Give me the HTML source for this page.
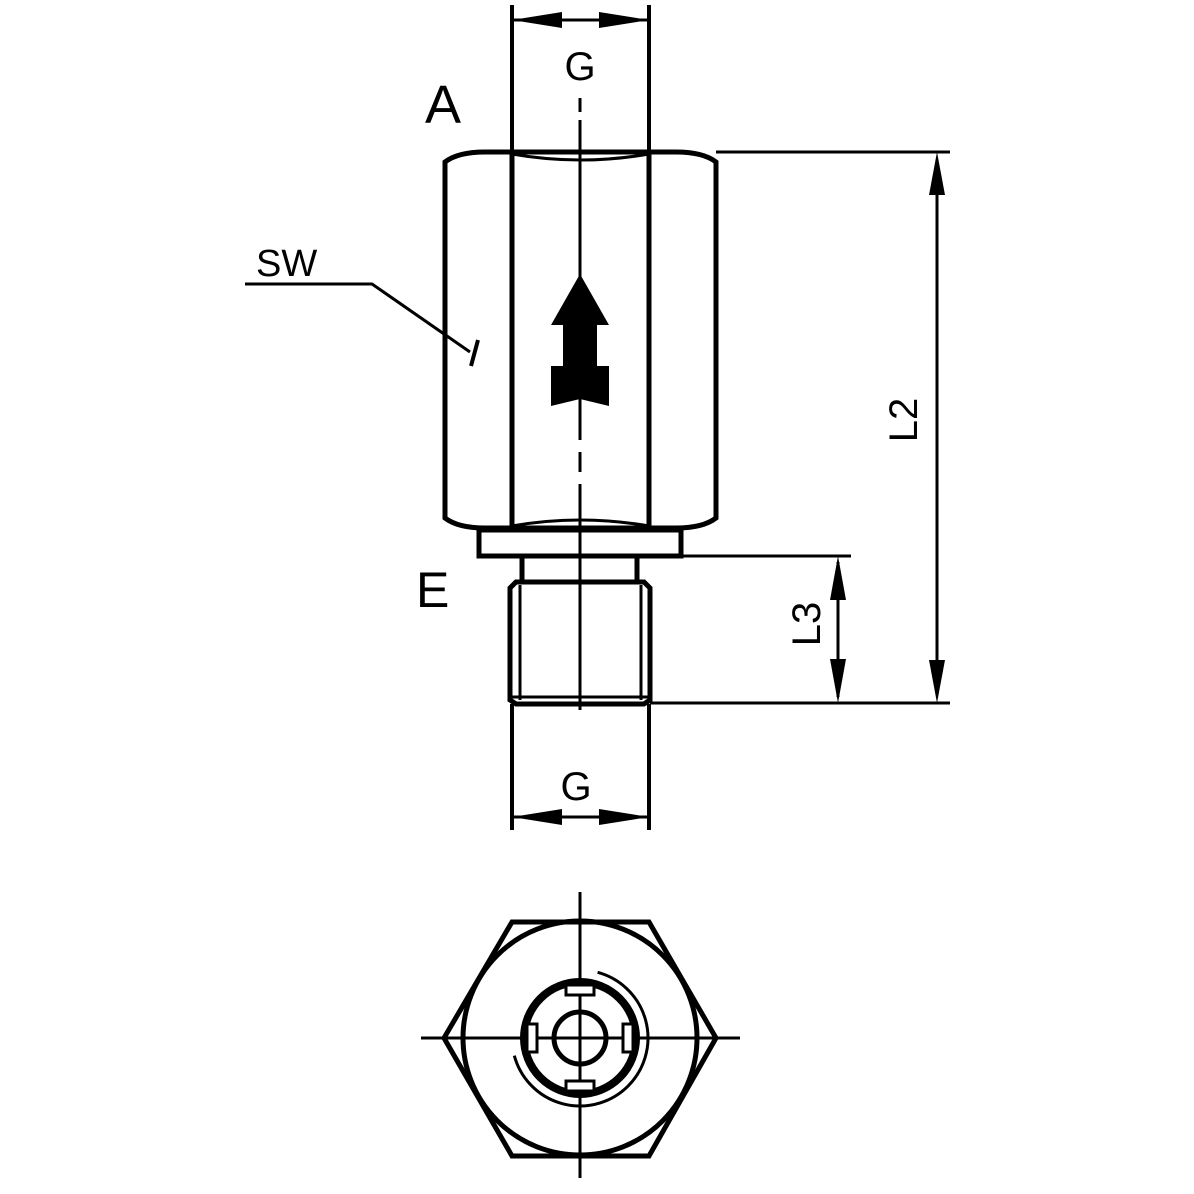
<!DOCTYPE html>
<html><head><meta charset="utf-8"><style>html,body{margin:0;padding:0;background:#fff}svg{display:block}</style></head>
<body>
<svg width="1194" height="1194" viewBox="0 0 1194 1194" xmlns="http://www.w3.org/2000/svg" font-family="Liberation Sans, sans-serif">
<rect width="1194" height="1194" fill="#fff"/>
<g stroke="#000" fill="none" stroke-linecap="butt">
<!-- top G dimension -->
<line x1="512" y1="5" x2="512" y2="152" stroke-width="4"/>
<line x1="649" y1="5" x2="649" y2="152" stroke-width="4"/>
<line x1="512" y1="20" x2="649" y2="20" stroke-width="3"/>
<!-- body -->
<path d="M445,162 Q458,152 485,152 L676,152 Q703,152 716,162 L716,518 Q703,528 676,528 L485,528 Q458,528 445,518 Z" stroke-width="5"/>
<path d="M512,154 Q580,166 649,154 M512,526 Q580,514 649,526" stroke-width="3"/>
<line x1="512" y1="152" x2="512" y2="528" stroke-width="5"/>
<line x1="649" y1="152" x2="649" y2="528" stroke-width="5"/>
<!-- collar -->
<rect x="479" y="530" width="202" height="26" stroke-width="5"/>
<!-- neck -->
<line x1="522" y1="557" x2="522" y2="580" stroke-width="5"/>
<line x1="637" y1="557" x2="637" y2="580" stroke-width="5"/>
<!-- thread -->
<path d="M510,588 L516,582 L644,582 L650,588 L650,700 L644,704 L516,704 L510,700 Z" stroke-width="5"/>
<line x1="520" y1="585" x2="520" y2="700" stroke-width="3"/>
<line x1="641" y1="585" x2="641" y2="700" stroke-width="3"/>
<line x1="512" y1="697" x2="649" y2="697" stroke-width="3"/>
<!-- center line -->
<line x1="580" y1="98" x2="580" y2="112" stroke-width="3"/>
<line x1="580" y1="120" x2="580" y2="440" stroke-width="3"/>
<line x1="580" y1="452" x2="580" y2="472" stroke-width="3"/>
<line x1="580" y1="484" x2="580" y2="710" stroke-width="3"/>
<!-- SW leader -->
<polyline points="245,284 372,284 470,352" stroke-width="3"/>
<line x1="478" y1="340" x2="471" y2="366" stroke-width="4"/>
<!-- right dims -->
<line x1="716" y1="152" x2="950" y2="152" stroke-width="3"/>
<line x1="681" y1="556" x2="851" y2="556" stroke-width="3"/>
<line x1="650" y1="703" x2="950" y2="703" stroke-width="3"/>
<line x1="937" y1="160" x2="937" y2="695" stroke-width="3"/>
<line x1="838" y1="562" x2="838" y2="697" stroke-width="3"/>
<!-- bottom G dim -->
<line x1="512" y1="704" x2="512" y2="830" stroke-width="4"/>
<line x1="649" y1="704" x2="649" y2="830" stroke-width="4"/>
<line x1="512" y1="817" x2="649" y2="817" stroke-width="3"/>
<!-- end view -->
<polygon points="444,1038 512,922 649,922 716,1038 649,1156 512,1156" stroke-width="5"/>
<circle cx="580" cy="1038" r="117" stroke-width="5"/>
<circle cx="580" cy="1038" r="56" stroke-width="8"/>
<circle cx="580" cy="1038" r="26" stroke-width="5"/>
<path d="M597.6,972.3 A68,68 0 1 1 514.3,1055.6" stroke-width="3"/>
<line x1="580" y1="892" x2="580" y2="1178" stroke-width="3"/>
<line x1="421" y1="1038" x2="740" y2="1038" stroke-width="3"/>
<g stroke-width="3" fill="#fff">
<rect x="566" y="985" width="28" height="10"/>
<rect x="566" y="1081" width="28" height="10"/>
<rect x="527" y="1024" width="10" height="28"/>
<rect x="623" y="1024" width="10" height="28"/>
</g>
</g>
<!-- arrowheads -->
<g fill="#000">
<polygon points="512,20 562,12 562,28"/>
<polygon points="649,20 599,12 599,28"/>
<polygon points="512,817 562,809 562,825"/>
<polygon points="649,817 599,809 599,825"/>
<polygon points="937,152 929,195 945,195"/>
<polygon points="937,703 929,660 945,660"/>
<polygon points="838,556 830,600 846,600"/>
<polygon points="838,703 830,659 846,659"/>
<!-- flow arrow -->
<polygon points="580,274 609,325 597,325 597,366 609,366 609,406 580,399 551,406 551,366 563,366 563,325 551,325"/>
</g>
<g fill="#000">
<text x="580" y="80" font-size="40" text-anchor="middle">G</text>
<text x="576" y="800" font-size="40" text-anchor="middle">G</text>
<text x="425" y="123" font-size="54">A</text>
<text x="416" y="607" font-size="50">E</text>
<text x="256" y="276" font-size="38">SW</text>
<text transform="translate(917,420) rotate(-90)" font-size="40" text-anchor="middle">L2</text>
<text transform="translate(820,624) rotate(-90)" font-size="40" text-anchor="middle">L3</text>
</g>
</svg>
</body></html>
